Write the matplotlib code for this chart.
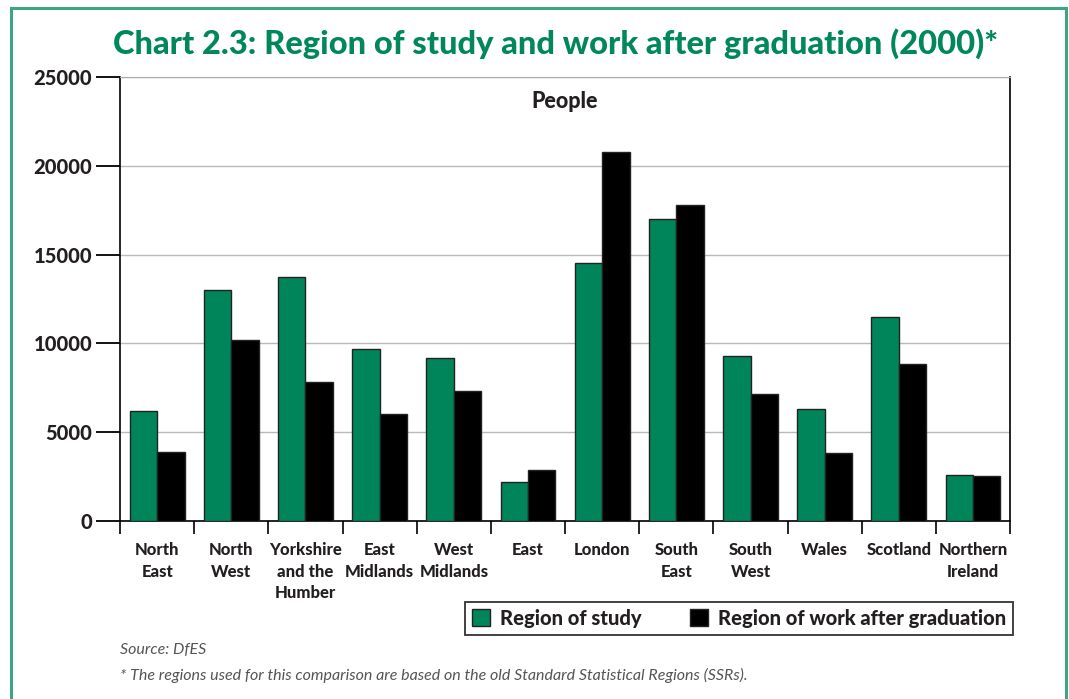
import numpy as np
import matplotlib
matplotlib.use("Agg")
import matplotlib.pyplot as plt
from matplotlib.patches import Rectangle

plt.rcParams['font.family'] = ['Lato', 'DejaVu Sans']

regions = ["North\nEast", "North\nWest", "Yorkshire\nand the\nHumber", "East\nMidlands",
           "West\nMidlands", "East", "London", "South\nEast", "South\nWest", "Wales",
           "Scotland", "Northern\nIreland"]
study = [6200, 13000, 13750, 9700, 9200, 2200, 14500, 17000, 9300, 6300, 11500, 2600]
work = [3900, 10200, 7850, 6000, 7300, 2850, 20800, 17800, 7150, 3800, 8850, 2550]
yticks = [0, 5000, 10000, 15000, 20000, 25000]

green = "#00855a"
ink = "#231f20"
heavy = "black"
x = np.arange(len(regions))
w = 0.37

fig = plt.figure(figsize=(10.69, 6.99), dpi=100)
ax = fig.add_axes([0.1123, 0.2547, 0.8326, 0.6352])

ax.bar(x - w/2, study, w, color=green, edgecolor="#222222", lw=1, label="Region of study", zorder=3)
ax.bar(x + w/2, work, w, color="black", edgecolor="#222222", lw=1, label="Region of work after graduation", zorder=3)

ax.set_xlim(-0.5, len(regions) - 0.5)
ax.set_ylim(0, 25000)
ax.set_yticks(yticks)
ax.set_yticklabels([str(v) for v in yticks], fontsize=14.5, fontweight=heavy, color=ink)
ax.tick_params(axis="y", length=17, width=1.3, pad=3)
ax.yaxis.grid(True, color="#bbbbbb", lw=1)
ax.set_axisbelow(True)

# ticks at category boundaries, labels in the middle
ax.set_xticks(np.arange(-0.5, len(regions)), minor=False)
ax.set_xticklabels([])
ax.tick_params(axis="x", length=9, width=1.2, direction="out")
ax.set_xticks(x, minor=True)
ax.set_xticklabels(regions, minor=True, fontsize=12, fontweight=heavy, color=ink,
                   linespacing=1.45, va="top")
ax.tick_params(axis="x", which="minor", length=0, pad=15)

for s in ["left", "right", "bottom"]:
    ax.spines[s].set_color("black")
    ax.spines[s].set_linewidth(1.2)
ax.spines["top"].set_color("#aaaaaa")

ax.text(0.5, 0.945, "People", transform=ax.transAxes, ha="center", va="center",
        fontsize=15.5, fontweight=heavy, color=ink)

fig.text(0.52, 0.938, "Chart 2.3: Region of study and work after graduation (2000)*",
         ha="center", va="center", fontsize=23.5, fontweight=heavy, color="#00875a")

leg = fig.legend(loc="center", bbox_to_anchor=(0.6915, 0.1155), ncol=2, frameon=True,
                 fancybox=False, edgecolor="black", handlelength=0.9, handleheight=0.9,
                 handletextpad=0.5, columnspacing=2.4, borderpad=0.35,
                 prop={"size": 14.5, "weight": heavy})
leg.get_frame().set_linewidth(1.3)
for t in leg.get_texts():
    t.set_color(ink)

fig.text(0.112, 0.070, "Source: DfES", fontsize=11.5, style="italic", color="#555555", va="center")
fig.text(0.112, 0.033, "* The regions used for this comparison are based on the old Standard Statistical Regions (SSRs).",
         fontsize=11.5, style="italic", color="#555555", va="center")

# page frame
fig.add_artist(Rectangle((0.0103, -0.05), 0.987, 1.039, transform=fig.transFigure,
                         fill=False, edgecolor="#3fa57f", lw=2.2))

fig.savefig("out.png", dpi=100)
